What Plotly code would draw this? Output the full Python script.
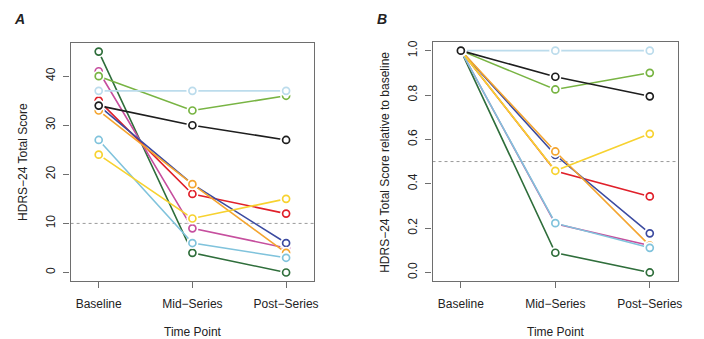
import plotly.graph_objects as go

time_points = ["Baseline", "Mid\u2212Series", "Post\u2212Series"]
x_pos = [1, 2, 3]

# HDRS-24 total scores per patient (baseline, mid-series, post-series)
names = ["P1", "P2", "P3", "P4", "P5", "P6", "P7", "P8", "P9", "P10"]
scores = {
    "P1": [45, 4, 0],
    "P2": [41, 9, 5],
    "P3": [40, 33, 36],
    "P4": [35, 16, 12],
    "P5": [34, 18, 6],
    "P6": [33, 18, 4],
    "P7": [27, 6, 3],
    "P8": [24, 11, 15],
    "P9": [37, 37, 37],
    "P10": [34, 30, 27],
}
colors = {
    "P1": "#2f6e3b",
    "P2": "#c64f9e",
    "P3": "#78b443",
    "P4": "#e0202a",
    "P5": "#3c4ba0",
    "P6": "#f4a530",
    "P7": "#80c3dc",
    "P8": "#f7d230",
    "P9": "#bcdcec",
    "P10": "#1e1e1e",
}
yticks_a = [0, 10, 20, 30, 40]
yticks_b = [0.0, 0.2, 0.4, 0.6, 0.8, 1.0]
threshold_a = 10
threshold_b = 0.5

W, H = 704, 339
FONT = "Liberation Sans, Arial, Helvetica, sans-serif"
TXT = "#222222"
BOX = "#6e6e6e"

fig = go.Figure()


def add_series(xref, yref, vals, color):
    fig.add_trace(go.Scatter(x=x_pos, y=vals, mode="lines", xaxis=xref, yaxis=yref,
                             line=dict(color=color, width=1.6), hoverinfo="skip", showlegend=False))
    fig.add_trace(go.Scatter(x=x_pos, y=vals, mode="markers", xaxis=xref, yaxis=yref,
                             marker=dict(color="white", size=12, line=dict(width=0)),
                             hoverinfo="skip", showlegend=False))
    fig.add_trace(go.Scatter(x=x_pos, y=vals, mode="markers", xaxis=xref, yaxis=yref,
                             marker=dict(color="white", size=7, symbol="circle",
                                         line=dict(color=color, width=1.7)),
                             showlegend=False))


for n in names:
    add_series("x", "y", scores[n], colors[n])
for n in names:
    base = scores[n][0]
    rel = [v / base for v in scores[n]]
    add_series("x2", "y2", rel, colors[n])

axis_common = dict(showline=True, mirror=True, linecolor=BOX, linewidth=1.3,
                   ticks="outside", ticklen=6, tickcolor=BOX, tickwidth=1,
                   showgrid=False, zeroline=False,
                   tickfont=dict(family=FONT, size=12, color=TXT))

def px_x(a, b):
    return [a / W, b / W]

def px_y(top, bottom):
    return [1 - bottom / H, 1 - top / H]

fig.update_layout(
    width=W, height=H, margin=dict(l=0, r=0, t=0, b=0),
    paper_bgcolor="white", plot_bgcolor="white", showlegend=False,
    xaxis=dict(domain=px_x(71, 316), range=[0.7, 3.3], tickvals=x_pos, ticktext=time_points,
               anchor="y", ticklabelstandoff=5, **axis_common),
    yaxis=dict(domain=px_y(41, 281), range=[-1.8, 46.8], tickvals=yticks_a,
               ticktext=[str(v) for v in yticks_a], tickangle=-90, anchor="x",
               ticklabelstandoff=4, **axis_common),
    xaxis2=dict(domain=px_x(435, 682), range=[0.7, 3.3], tickvals=x_pos, ticktext=time_points,
                anchor="y2", ticklabelstandoff=5, **axis_common),
    yaxis2=dict(domain=px_y(40, 281), range=[-0.04, 1.04], tickvals=yticks_b,
                ticktext=[f"{v:.1f}" for v in yticks_b], tickangle=-90, anchor="x2",
                ticklabelstandoff=4, **axis_common),
)

fig.add_shape(type="line", xref="x domain", yref="y", x0=0, x1=1, y0=threshold_a, y1=threshold_a,
              line=dict(color="#9a9a9a", width=1, dash="dot"), layer="below")
fig.add_shape(type="line", xref="x2 domain", yref="y2", x0=0, x1=1, y0=threshold_b, y1=threshold_b,
              line=dict(color="#9a9a9a", width=1, dash="dot"), layer="below")

def ann(text, x, y, size=12, angle=0):
    fig.add_annotation(text=text, xref="paper", yref="paper", x=x / W, y=1 - y / H,
                       xanchor="center", yanchor="middle", showarrow=False, textangle=angle,
                       font=dict(family=FONT, size=size, color=TXT))

ann("<b><i>A</i></b>", 20, 17, size=14)
ann("<b><i>B</i></b>", 384, 17, size=14)
ann("Time Point", 194, 332)
ann("Time Point", 559, 332)
ann("HDRS\u221224 Total Score", 23, 161, angle=-90)
ann("HDRS\u221224 Total Score relative to baseline", 387, 161, angle=-90)

fig.write_html("out.html", config={"displayModeBar": False},
               post_script="document.body.style.margin='0';document.body.style.overflow='hidden';")
